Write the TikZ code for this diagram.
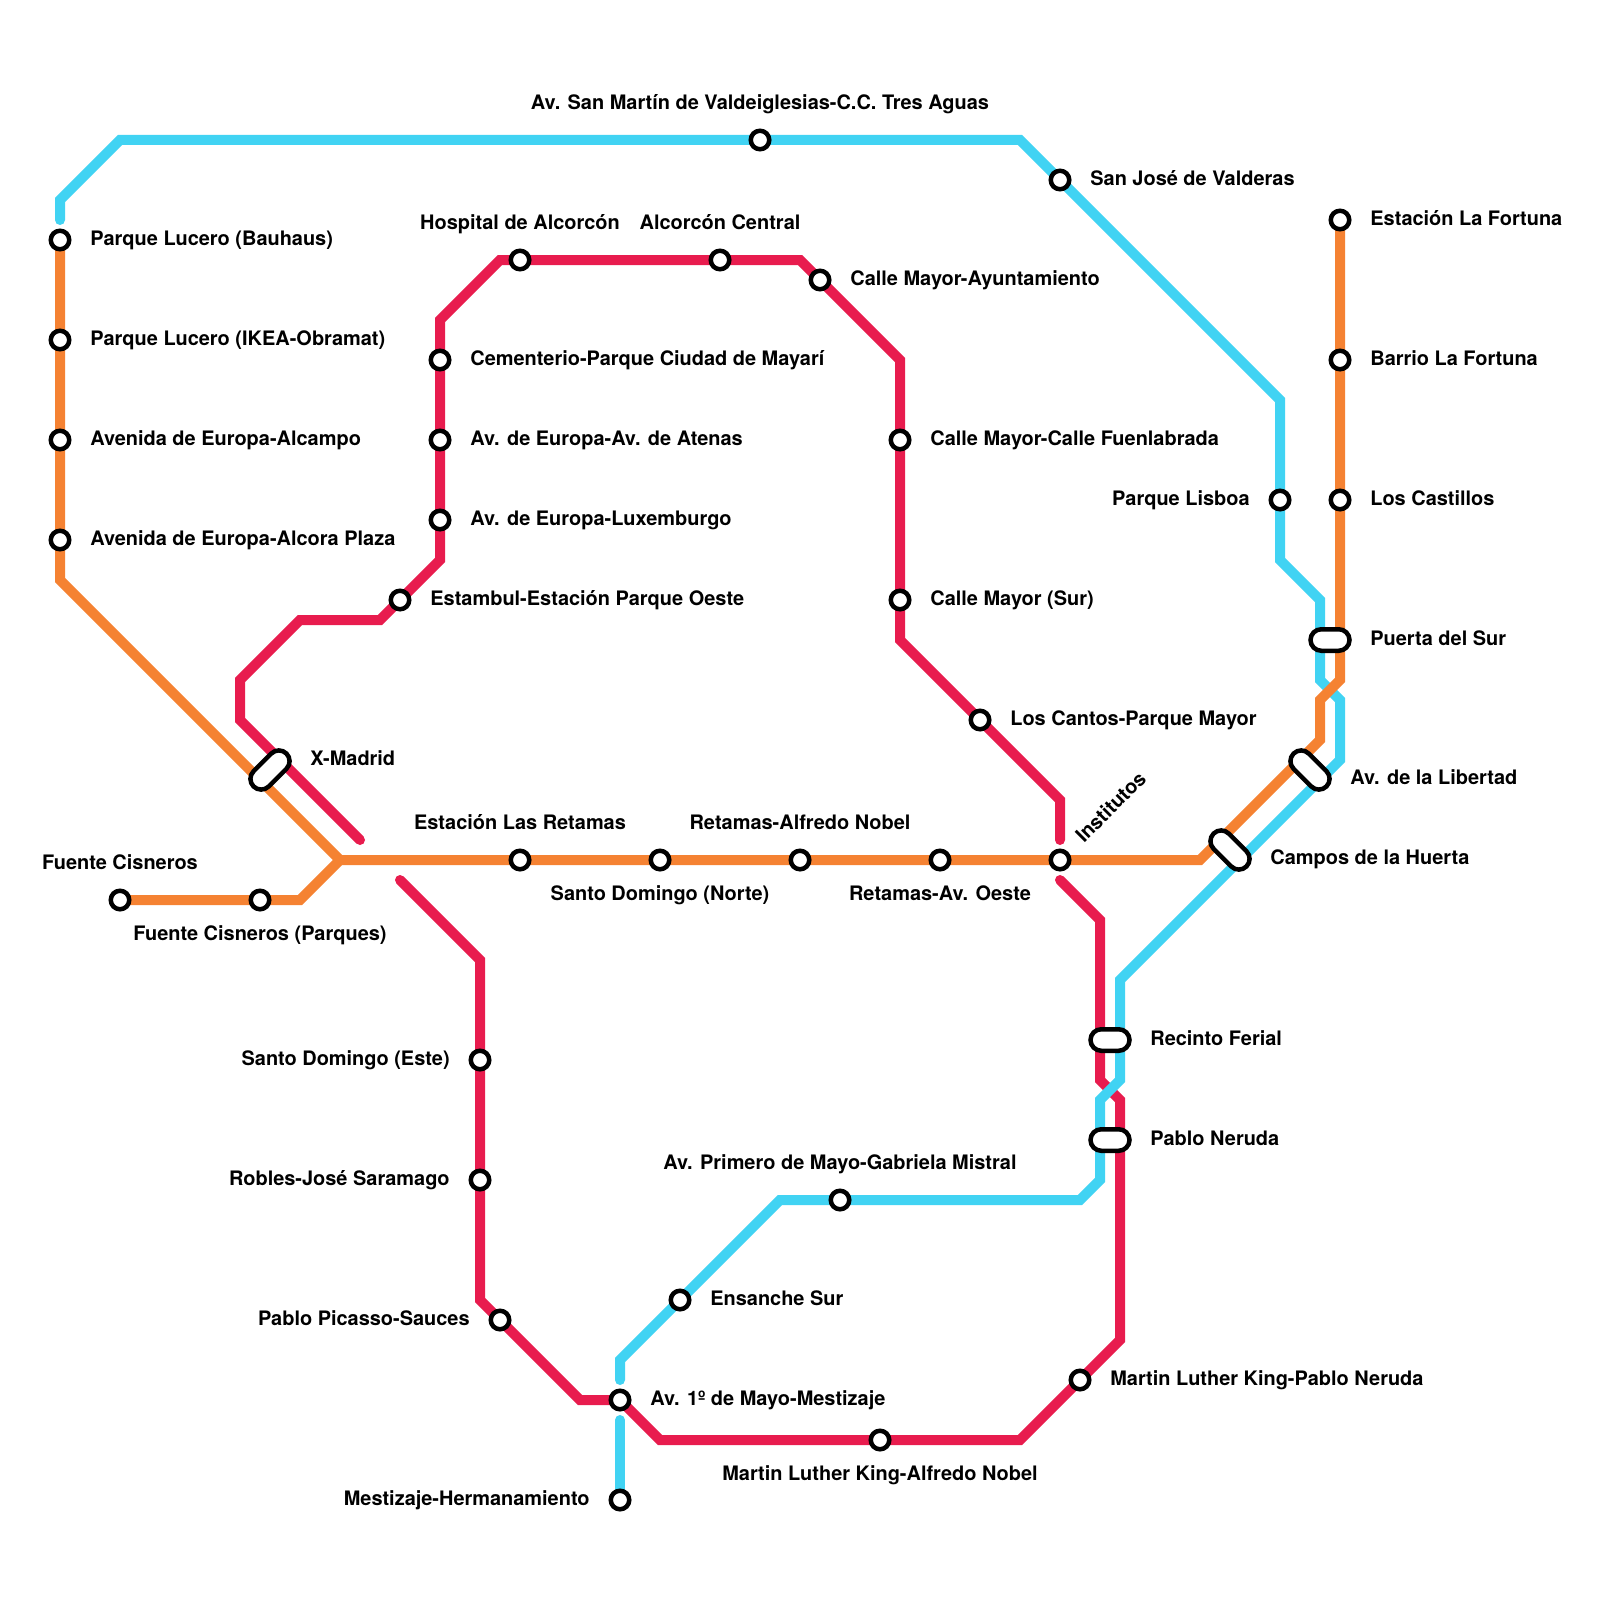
\documentclass[tikz,border=0pt]{standalone}
\usepackage{fontspec}
\setmainfont{TeX Gyre Heros}
\usetikzlibrary{positioning, backgrounds, shapes.misc}
\definecolor{cO}{RGB}{245,130,50}
\definecolor{cR}{RGB}{232,28,78}
\definecolor{cB}{RGB}{65,211,243}

\begin{document}
\begin{tikzpicture}[x=.4cm, y=-.4cm, node distance=.6cm,
    station/.style={circle, fill=white, draw=black, line width=.09cm, minimum size=.37cm, inner sep=0pt},
    change/.style={rounded rectangle, fill=white, draw=black, line width=.09cm, minimum width=.78cm, minimum height=.43cm, inner sep=0pt},
    changeD/.style={change, minimum width=.93cm, rotate=#1},
    lbl/.style={font=\bfseries\fontsize{11.35}{13}\selectfont, inner sep=0pt, text height=8.6pt, text depth=2.5pt},
    up/.style={above=.51cm of #1.center},
    down/.style={below=.5cm of #1.center},
    metro/.style={line width=.2cm, line cap=round}]
    \useasboundingbox (0,0) rectangle (80,80);

    % Stations, blue line
    \node[station] (SMV) at (38,7) {};
    \node[station] (SJV) at (53,9) {};
    \node[station] (PLI) at (64,25) {};
    \node[station] (PMG) at (42,60) {};
    \node[station] (ENS) at (34,65) {};
    \node[station] (AMM) at (31,70) {};
    \node[station] (MHE) at (31,75) {};

    % Stations, orange line
    \node[station] (PLB) at (3,12) {};
    \node[station] (PLO) at (3,17) {};
    \node[station] (AEA) at (3,22) {};
    \node[station] (AEP) at (3,27) {};
    \node[station] (FCI) at (6,45) {};
    \node[station] (FCP) at (13,45) {};
    \node[station] (ELR) at (26,43) {};
    \node[station] (SDN) at (33,43) {};
    \node[station] (RAN) at (40,43) {};
    \node[station] (RAO) at (47,43) {};
    \node[station] (INS) at (53,43) {};
    \node[station] (ELF) at (67,11) {};
    \node[station] (BLF) at (67,18) {};
    \node[station] (LCA) at (67,25) {};

    % Stations, red line
    \node[station] (EPO) at (20,30) {};
    \node[station] (ELU) at (22,26) {};
    \node[station] (EAT) at (22,22) {};
    \node[station] (CPM) at (22,18) {};
    \node[station] (HAL) at (26,13) {};
    \node[station] (ACE) at (36,13) {};
    \node[station] (CMA) at (41,14) {};
    \node[station] (CMF) at (45,22) {};
    \node[station] (CMS) at (45,30) {};
    \node[station] (LCP) at (49,36) {};
    \node[station] (SDE) at (24,53) {};
    \node[station] (RJS) at (24,59) {};
    \node[station] (PPS) at (25,66) {};
    \node[station] (MLA) at (44,72) {};
    \node[station] (MLP) at (54,69) {};

    % Changes
    \node[changeD=45] (XMA) at (13.5,38.5) {};
    \node[change] (PDS) at (66.5,32) {};
    \node[changeD=-45] (ALI) at (65.5,38.5) {};
    \node[changeD=-45] (CHU) at (61.5,42.5) {};
    \node[change] (RFE) at (55.5,52) {};
    \node[change] (PNE) at (55.5,57) {};

    % Free ends
    \coordinate (blueTop) at (3,11);
    \coordinate (blueUp) at (31,69);
    \coordinate (blueDown) at (31,71);
    \coordinate (redA) at (18,42);
    \coordinate (redB) at (53,42);
    \coordinate (redC) at (20,44);
    \coordinate (redD) at (53,44);

    % Labels
    \node[lbl, up=SMV] (SMVt) {Av. San Martín de Valdeiglesias-C.C. Tres Aguas};
    \node[lbl, right=of SJV.center] (SJVt) {San José de Valderas};
    \node[lbl, left=of PLI.center] (PLIt) {Parque Lisboa};
    \node[lbl, up=PMG] (PMGt) {Av. Primero de Mayo-Gabriela Mistral};
    \node[lbl, right=of ENS.center] (ENSt) {Ensanche Sur};
    \node[lbl, right=of AMM.center] (AMMt) {Av. 1º de Mayo-Mestizaje};
    \node[lbl, left=of MHE.center] (MHEt) {Mestizaje-Hermanamiento};

    \node[lbl, right=of PLB.center] (PLBt) {Parque Lucero (Bauhaus)};
    \node[lbl, right=of PLO.center] (PLOt) {Parque Lucero (IKEA-Obramat)};
    \node[lbl, right=of AEA.center] (AEAt) {Avenida de Europa-Alcampo};
    \node[lbl, right=of AEP.center] (AEPt) {Avenida de Europa-Alcora Plaza};
    \node[lbl, up=FCI] (FCIt) {Fuente Cisneros};
    \node[lbl, down=FCP] (FCPt) {Fuente Cisneros (Parques)};
    \node[lbl, up=ELR] (ELRt) {Estación Las Retamas};
    \node[lbl, down=SDN] (SDNt) {Santo Domingo (Norte)};
    \node[lbl, up=RAN] (RANt) {Retamas-Alfredo Nobel};
    \node[lbl, down=RAO] (RAOt) {Retamas-Av. Oeste};
    \node[lbl, rotate=45, above right=.4cm and .4cm of INS.center, anchor=west] (INSt) {Institutos};
    \node[lbl, right=of ELF.center] (ELFt) {Estación La Fortuna};
    \node[lbl, right=of BLF.center] (BLFt) {Barrio La Fortuna};
    \node[lbl, right=of LCA.center] (LCAt) {Los Castillos};

    \node[lbl, right=of EPO.center] (EPOt) {Estambul-Estación Parque Oeste};
    \node[lbl, right=of ELU.center] (ELUt) {Av. de Europa-Luxemburgo};
    \node[lbl, right=of EAT.center] (EATt) {Av. de Europa-Av. de Atenas};
    \node[lbl, right=of CPM.center] (CPMt) {Cementerio-Parque Ciudad de Mayarí};
    \node[lbl, up=HAL] (HALt) {Hospital de Alcorcón};
    \node[lbl, up=ACE] (ACEt) {Alcorcón Central};
    \node[lbl, right=of CMA.center] (CMAt) {Calle Mayor-Ayuntamiento};
    \node[lbl, right=of CMF.center] (CMFt) {Calle Mayor-Calle Fuenlabrada};
    \node[lbl, right=of CMS.center] (CMSt) {Calle Mayor (Sur)};
    \node[lbl, right=of LCP.center] (LCPt) {Los Cantos-Parque Mayor};
    \node[lbl, left=of SDE.center] (SDEt) {Santo Domingo (Este)};
    \node[lbl, left=of RJS.center] (RJSt) {Robles-José Saramago};
    \node[lbl, left=of PPS.center] (PPSt) {Pablo Picasso-Sauces};
    \node[lbl, down=MLA] (MLAt) {Martin Luther King-Alfredo Nobel};
    \node[lbl, right=of MLP.center] (MLPt) {Martin Luther King-Pablo Neruda};

    \node[lbl, right=.8cm of XMA.center, yshift=.2cm] (XMAt) {X-Madrid};
    \node[lbl, right=.8cm of PDS.center] (PDSt) {Puerta del Sur};
    \node[lbl, right=.8cm of ALI.center, yshift=-.18cm] (ALIt) {Av. de la Libertad};
    \node[lbl, right=.8cm of CHU.center, yshift=-.18cm] (CHUt) {Campos de la Huerta};
    \node[lbl, right=.8cm of RFE.center] (RFEt) {Recinto Ferial};
    \node[lbl, right=.8cm of PNE.center] (PNEt) {Pablo Neruda};

    % Lines
    \begin{pgfonlayer}{background}
    \draw[metro, cR] (redA) -- (12,36) -- (12,34) -- (15,31) -- (19,31) -- (22,28) -- (22,16) -- (25,13) -- (40,13) -- (45,18) -- (45,32) -- (53,40) -- (redB);
    \draw[metro, cR] (redC) -- (24,48) -- (24,65) -- (29,70) -- (AMM.center) -- (33,72) -- (51,72) -- (56,67) -- (56,55) -- (55,54) -- (55,46) -- (redD);

    \draw[metro, cB] (blueTop) -- (3,10) -- (6,7) -- (51,7) -- (64,20) -- (64,28) -- (66,30) -- (66,34) -- (67,35) -- (67,38) -- (56,49) -- (56,54) -- (55,55) -- (55,59) -- (54,60) -- (39,60) -- (31,68) -- (blueUp);
    \draw[metro, cB] (blueDown) -- (MHE.center);

    \draw[metro, cO] (PLB.center) -- (3,29) -- (17,43) -- (60,43) -- (66,37) -- (66,35) -- (67,34) -- (ELF.center);
    \draw[metro, cO] (FCI.center) -- (15,45) -- (17,43);
    \end{pgfonlayer}
\end{tikzpicture}
\end{document}
